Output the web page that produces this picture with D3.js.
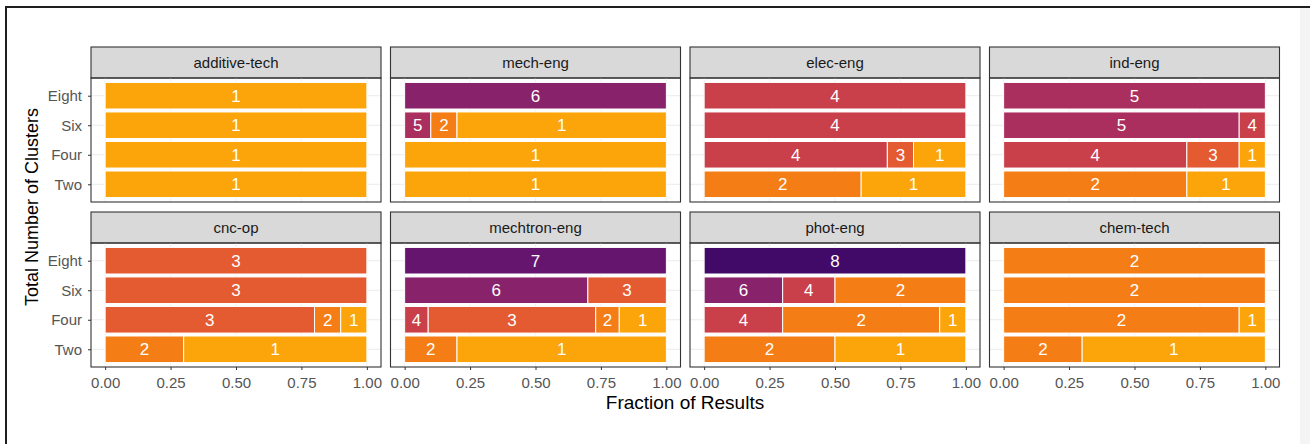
<!DOCTYPE html>
<html>
<head>
<meta charset="utf-8">
<script src="https://cdn.jsdelivr.net/npm/d3@7"></script>
<style>
  body { margin: 0; background: #fff; }
  text { font-family: "Liberation Sans", Arial, sans-serif; }
</style>
</head>
<body>
<div id="chart"></div>
<script>
// facets, in reading order
const facets = ["additive-tech", "mech-eng", "elec-eng", "ind-eng",
                "cnc-op", "mechtron-eng", "phot-eng", "chem-tech"];
// y categories, top to bottom
const totals = ["Eight", "Six", "Four", "Two"];
const xTicks = [0, 0.25, 0.5, 0.75, 1];

// each facet: one row per total (Eight, Six, Four, Two),
// each row = [cluster, fraction] segments from left to right
const additiveTech = [[[1, 1]], [[1, 1]], [[1, 1]], [[1, 1]]];
const mechEng = [[[6, 1]], [[5, 0.1], [2, 0.1], [1, 0.8]], [[1, 1]], [[1, 1]]];
const elecEng = [[[4, 1]], [[4, 1]], [[4, 0.7], [3, 0.1], [1, 0.2]], [[2, 0.6], [1, 0.4]]];
const indEng = [[[5, 1]], [[5, 0.9], [4, 0.1]], [[4, 0.7], [3, 0.2], [1, 0.1]], [[2, 0.7], [1, 0.3]]];
const cncOp = [[[3, 1]], [[3, 1]], [[3, 0.8], [2, 0.1], [1, 0.1]], [[2, 0.3], [1, 0.7]]];
const mechtronEng = [[[7, 1]], [[6, 0.7], [3, 0.3]], [[4, 0.09], [3, 0.64], [2, 0.09], [1, 0.18]], [[2, 0.2], [1, 0.8]]];
const photEng = [[[8, 1]], [[6, 0.3], [4, 0.2], [2, 0.5]], [[4, 0.3], [2, 0.6], [1, 0.1]], [[2, 0.5], [1, 0.5]]];
const chemTech = [[[2, 1]], [[2, 1]], [[2, 0.9], [1, 0.1]], [[2, 0.3], [1, 0.7]]];

const facetRows = [additiveTech, mechEng, elecEng, indEng, cncOp, mechtronEng, photEng, chemTech];

const width = 1310, height = 444;
const stripH = 31;

const svg = d3.select("#chart").append("svg")
  .attr("width", width)
  .attr("height", height);

svg.append("rect").attr("width", width).attr("height", height).attr("fill", "#fff");

// page frame
svg.append("rect")
  .attr("x", 1300).attr("y", 8).attr("width", 10).attr("height", height - 8)
  .attr("fill", "#f4f4f4");
svg.append("path")
  .attr("d", "M6," + height + "V7H" + width)
  .attr("fill", "none")
  .attr("stroke", "#1f1f1f")
  .attr("stroke-width", 2);

// facet grid
const colScale = d3.scaleBand().domain([0, 1, 2, 3]).range([91, 1279.5]).paddingInner(0.0317);
const rowScale = d3.scaleBand().domain([0, 1]).range([47, 367]).paddingInner(0.0606);
const panelW = colScale.bandwidth();
const panelH = rowScale.bandwidth() - stripH;

const x = d3.scaleLinear().domain([-0.054, 1.054]).range([0, panelW]);
const y = d3.scalePoint().domain(totals).range([0, panelH]).padding(0.6);
const barH = y.step() * 0.9;

const colorT = d3.scaleLinear().domain([1, 8]).range([0.8, 0.2]);
const fill = k => d3.interpolateInferno(colorT(k));

facets.forEach(function(name, i) {
  const col = i % 4, row = Math.floor(i / 4);
  const px = colScale(col), py = rowScale(row);

  // strip
  svg.append("rect")
    .attr("x", px).attr("y", py)
    .attr("width", panelW).attr("height", stripH)
    .attr("fill", "#d9d9d9")
    .attr("stroke", "#333").attr("stroke-width", 1.1);
  svg.append("text")
    .attr("x", px + panelW / 2).attr("y", py + stripH / 2)
    .attr("dy", "0.35em")
    .attr("text-anchor", "middle")
    .attr("font-size", "15px")
    .attr("fill", "#1a1a1a")
    .text(name);

  const g = svg.append("g").attr("transform", "translate(" + px + "," + (py + stripH) + ")");

  // grid
  g.selectAll(".hgrid").data(totals).enter().append("line")
    .attr("x1", 0).attr("x2", panelW)
    .attr("y1", d => y(d)).attr("y2", d => y(d))
    .attr("stroke", "#ebebeb");
  g.selectAll(".vgrid").data(xTicks).enter().append("line")
    .attr("x1", d => x(d)).attr("x2", d => x(d))
    .attr("y1", 0).attr("y2", panelH)
    .attr("stroke", "#f0f0f0");

  // bars
  facetRows[i].forEach(function(segs, r) {
    let cum = 0;
    segs.forEach(function(s) {
      const x0 = cum, x1 = cum + s[1];
      cum = x1;
      g.append("rect")
        .attr("x", x(x0)).attr("width", x(x1) - x(x0))
        .attr("y", y(totals[r]) - barH / 2).attr("height", barH)
        .attr("fill", fill(s[0]))
        .attr("stroke", "#fff").attr("stroke-width", 1);
      g.append("text")
        .attr("x", (x(x0) + x(x1)) / 2).attr("y", y(totals[r]))
        .attr("dy", "0.36em")
        .attr("text-anchor", "middle")
        .attr("font-size", "17px")
        .attr("fill", "#fff")
        .text(s[0]);
    });
  });

  // panel border
  g.append("rect")
    .attr("width", panelW).attr("height", panelH)
    .attr("fill", "none")
    .attr("stroke", "#333").attr("stroke-width", 1.1);

  // y axis on first column
  if (col === 0) {
    const ya = g.append("g").call(d3.axisLeft(y).tickSize(3).tickPadding(6));
    ya.select(".domain").remove();
    ya.selectAll("line").attr("stroke", "#333");
    ya.selectAll("text")
      .attr("font-size", "15px")
      .attr("font-family", "Liberation Sans, Arial, sans-serif")
      .attr("fill", "#555");
  }

  // x axis on bottom row
  if (row === 1) {
    const xa = g.append("g")
      .attr("transform", "translate(0," + panelH + ")")
      .call(d3.axisBottom(x).tickValues(xTicks).tickFormat(d3.format(".2f")).tickSize(3).tickPadding(7));
    xa.select(".domain").remove();
    xa.selectAll("line").attr("stroke", "#333");
    xa.selectAll("text")
      .attr("font-size", "15px")
      .attr("font-family", "Liberation Sans, Arial, sans-serif")
      .attr("fill", "#555");
  }
});

// axis titles
svg.append("text")
  .attr("transform", "translate(38,207) rotate(-90)")
  .attr("text-anchor", "middle")
  .attr("font-size", "18px")
  .attr("fill", "#000")
  .text("Total Number of Clusters");

svg.append("text")
  .attr("x", 685).attr("y", 409)
  .attr("text-anchor", "middle")
  .attr("font-size", "19px")
  .attr("fill", "#000")
  .text("Fraction of Results");
</script>
</body>
</html>
